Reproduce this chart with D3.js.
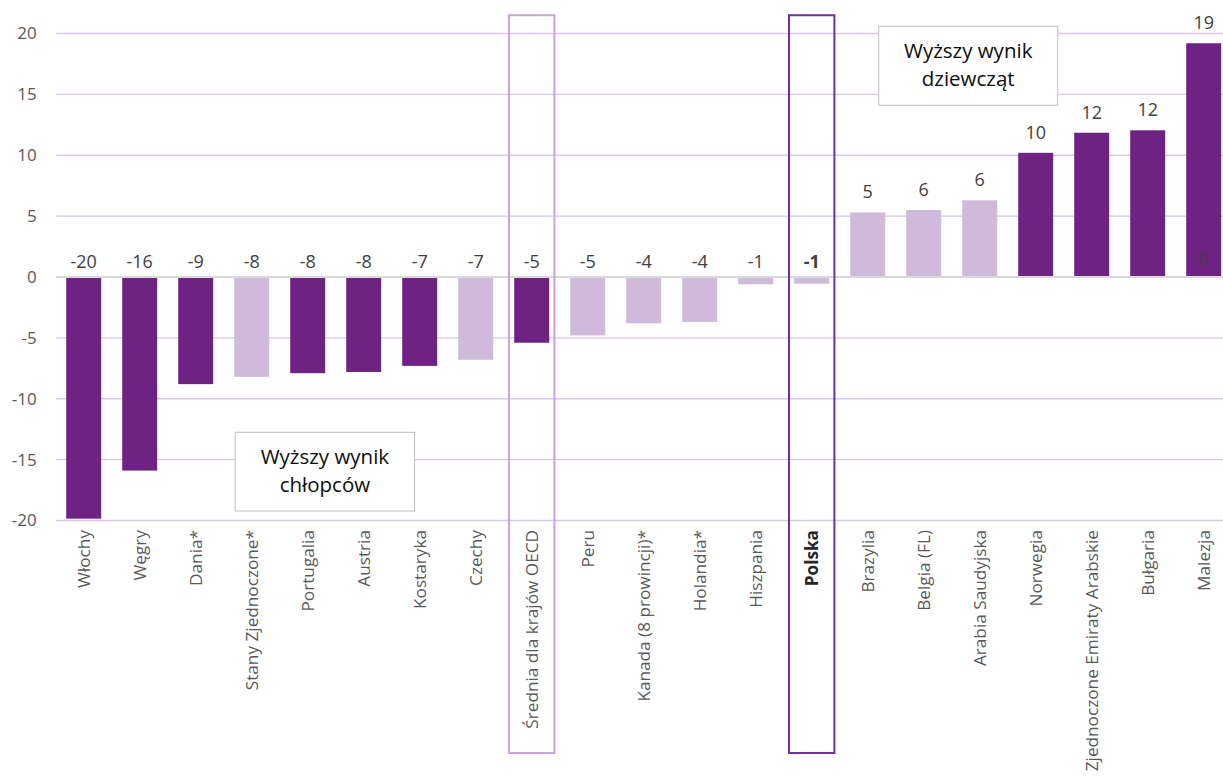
<!DOCTYPE html>
<html>
<head>
<meta charset="utf-8">
<script src="https://cdn.jsdelivr.net/npm/d3@7"></script>
<style>
  html, body { margin: 0; padding: 0; background: #fff; }
  svg { display: block; font-family: "Open Sans", "Noto Sans", sans-serif; }
</style>
</head>
<body>
<svg id="chart" width="1223" height="780"></svg>
<script>
// ---- data ----
const categories = ["Włochy", "Węgry", "Dania*", "Stany Zjednoczone*", "Portugalia", "Austria",
  "Kostaryka", "Czechy", "Średnia dla krajów OECD", "Peru", "Kanada (8 prowincji)*",
  "Holandia*", "Hiszpania", "Polska", "Brazylia", "Belgia (FL)", "Arabia Saudyjska",
  "Norwegia", "Zjednoczone Emiraty Arabskie", "Bułgaria", "Malezja"];
const values = [-19.85, -15.9, -8.8, -8.2, -7.9, -7.8, -7.3, -6.8, -5.4, -4.8, -3.8,
  -3.7, -0.6, -0.55, 5.3, 5.5, 6.3, 10.2, 11.85, 12.05, 19.2];
// true = statistically significant (dark), false = not significant (light)
const significant = [true, true, true, false, true, true, true, false, true, false, false,
  false, false, false, false, false, false, true, true, true, true];
const extraSeriesCategory = ["Malezja"];
const extraSeriesValue = [0];
const yTicks = [-20, -15, -10, -5, 0, 5, 10, 15, 20];
const highlightAvg = "Średnia dla krajów OECD";
const highlightPL = "Polska";
const noteGirls = ["Wyższy wynik", "dziewcząt"];
const noteBoys = ["Wyższy wynik", "chłopców"];

// ---- layout ----
const W = 1223, H = 780;
const left = 55.7, step = 56;
const svg = d3.select("#chart");

const x = d3.scaleBand().domain(categories)
  .range([left, left + step * categories.length])
  .paddingInner(0.375).paddingOuter(0.1875);
const y = d3.scaleLinear().domain([-20, 20]).range([520.5, 33.5]);

const DARK = "#6E2382", LIGHT = "#CFBADC";

// gridlines
svg.append("g").selectAll("line").data(yTicks.filter(t => t !== 0)).join("line")
  .attr("x1", left).attr("x2", W)
  .attr("y1", d => y(d)).attr("y2", d => y(d))
  .attr("stroke", "#D9C6E8").attr("stroke-width", 1.3);

// y axis labels
const yAxis = d3.axisLeft(y).tickValues(yTicks).tickSize(0).tickPadding(19).tickFormat(d3.format("d"));
const ga = svg.append("g").attr("transform", `translate(${left},0)`).call(yAxis);
ga.select(".domain").remove();
ga.selectAll("text").attr("font-size", 17).attr("fill", "#595959")
  .attr("font-family", "'Open Sans', sans-serif").text(d => String(d));

// bars
const data = categories.map((c, i) => ({ c, v: values[i], sig: significant[i] }));
svg.append("g").selectAll("rect").data(data).join("rect")
  .attr("x", d => x(d.c))
  .attr("width", x.bandwidth())
  .attr("y", d => y(Math.max(0, d.v)))
  .attr("height", d => Math.abs(y(d.v) - y(0)))
  .attr("fill", d => d.sig ? DARK : LIGHT);

// zero line
svg.append("line").attr("x1", left).attr("x2", W).attr("y1", y(0)).attr("y2", y(0))
  .attr("stroke", "#D9D9D9").attr("stroke-width", 2);

// value labels
svg.append("g").selectAll("text").data(data).join("text")
  .attr("x", d => x(d.c) + x.bandwidth() / 2)
  .attr("y", d => d.v < 0 ? y(0) - 9 : y(d.v) - 14)
  .attr("text-anchor", "middle")
  .attr("font-size", 18)
  .attr("font-weight", d => d.c === highlightPL ? "bold" : "normal")
  .attr("fill", "#404040")
  .text(d => String(Math.round(d.v)));

// stray label of second series
svg.append("g").selectAll("text").data(extraSeriesCategory).join("text")
  .attr("x", d => x(d) + x.bandwidth() / 2)
  .attr("y", (d, i) => y(extraSeriesValue[i]) - 12)
  .attr("text-anchor", "middle").attr("font-size", 18).attr("fill", "#404040")
  .text((d, i) => extraSeriesValue[i]);

// category labels
svg.append("g").selectAll("text").data(categories).join("text")
  .attr("transform", d => `translate(${x(d) + x.bandwidth() / 2},530) rotate(-90)`)
  .attr("text-anchor", "end").attr("dy", "0.35em")
  .attr("font-size", 17.2)
  .attr("font-weight", d => d === highlightPL ? "bold" : "normal")
  .attr("fill", d => d === highlightPL ? "#262626" : "#595959")
  .text(d => d);

// highlight boxes
const boxHalf = 22.7;
function hbox(cat, color) {
  const cx = x(cat) + x.bandwidth() / 2;
  svg.append("rect").attr("x", cx - boxHalf).attr("y", y(21.5))
    .attr("width", boxHalf * 2).attr("height", 753 - y(21.5))
    .attr("fill", "none").attr("stroke", color).attr("stroke-width", 2);
}
hbox(highlightAvg, "#C9A3DA");
hbox(highlightPL, "#7030A0");

// note boxes
function note(lines, x0, y0, w, h) {
  const g = svg.append("g");
  g.append("rect").attr("x", x0).attr("y", y0).attr("width", w).attr("height", h)
    .attr("fill", "#fff").attr("stroke", "#BFBFBF").attr("stroke-width", 1);
  g.selectAll("text").data(lines).join("text")
    .attr("x", x0 + w / 2).attr("y", (d, i) => y0 + 32 + i * 28)
    .attr("text-anchor", "middle").attr("font-size", 20.5).attr("fill", "#0D0D0D")
    .text(d => d);
}
note(noteGirls, x("Brazylia") + 28.5, 26.3, 179, 79);
note(noteBoys, x("Stany Zjednoczone*") + 1, 432.3, 179.4, 78.7);
</script>
</body>
</html>
